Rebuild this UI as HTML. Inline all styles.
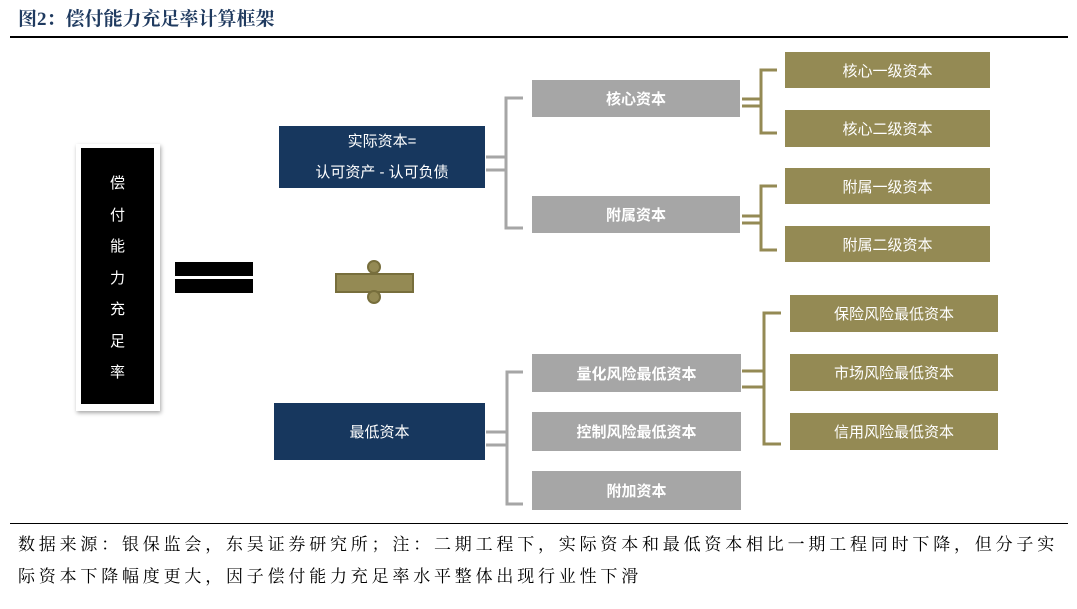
<!DOCTYPE html>
<html><head><meta charset="utf-8"><style>
body{margin:0;width:1077px;height:609px;background:#fff;position:relative;overflow:hidden;font-family:"Liberation Sans","Noto Sans CJK SC",sans-serif}
.a{position:absolute;box-sizing:border-box}
.t{display:flex;align-items:center;justify-content:center;color:#fff;font-size:15px}
.g{background:#a6a6a6;font-weight:bold}
.o{background:#948a54}
.n{background:#17375e}
</style></head><body>
<div class="a" style="left:18px;top:4px;font-size:19px;font-weight:bold;color:#1f3a5f;font-family:'Liberation Serif','Noto Serif CJK SC',serif">图2：偿付能力充足率计算框架</div>
<div class="a" style="left:10px;top:36px;width:1058px;height:2px;background:#000"></div>
<div class="a" style="left:10px;top:523px;width:1058px;height:1px;background:#000"></div>
<div class="a" style="left:18px;top:529px;width:1070px;font-size:17px;letter-spacing:3.8px;line-height:32px;color:#000;font-family:'Liberation Serif','Noto Serif CJK SC',serif;white-space:nowrap">数据来源：银保监会，东吴证券研究所；注：二期工程下，实际资本和最低资本相比一期工程同时下降，但分子实<br>际资本下降幅度更大，因子偿付能力充足率水平整体出现行业性下滑</div>

<div class="a" style="left:76px;top:144px;width:84px;height:267px;background:#fff;box-shadow:1px 2px 4px rgba(0,0,0,.35)"></div>
<div class="a" style="left:81px;top:148px;width:73px;height:256px;background:#000;color:#fff;font-size:15px;text-align:center;line-height:31.5px;padding-top:20px">偿<br>付<br>能<br>力<br>充<br>足<br>率</div>

<div class="a" style="left:175px;top:262px;width:78px;height:14px;background:#000"></div>
<div class="a" style="left:175px;top:279px;width:78px;height:14px;background:#000"></div>

<svg class="a" style="left:0;top:0" width="1077" height="609">
<rect x="336" y="274" width="77" height="18" fill="#948a54" stroke="#776e3c" stroke-width="2"/>
<circle cx="374" cy="267" r="6" fill="#948a54" stroke="#776e3c" stroke-width="2"/>
<circle cx="374" cy="297" r="6" fill="#948a54" stroke="#776e3c" stroke-width="2"/>
<g fill="none" stroke="#a6a6a6" stroke-width="3">
<path d="M486 157H505M486 170H505M523 98H506V228H523"/>
<path d="M486 432H506M486 445H506M523 372H507V504H523"/>
</g>
<g fill="none" stroke="#948a54" stroke-width="3">
<path d="M742 99H760M742 106H760M777 70H761V133H777"/>
<path d="M742 216H760M742 223H760M777 186H761V250H777"/>
<path d="M742 371H763M742 387H763M781 313H764V444H781"/>
</g>
</svg>

<div class="a n" style="left:279px;top:126px;width:206px;height:62px;color:#fff;font-size:15px;text-align:center;line-height:31px">实际资本=<br>认可资产 - 认可负债</div>
<div class="a t n" style="left:274px;top:403px;width:211px;height:57px">最低资本</div>

<div class="a t g" style="left:532px;top:80px;width:208px;height:37px">核心资本</div>
<div class="a t g" style="left:532px;top:196px;width:208px;height:37px">附属资本</div>
<div class="a t g" style="left:532px;top:354px;width:209px;height:38px">量化风险最低资本</div>
<div class="a t g" style="left:532px;top:412px;width:209px;height:39px">控制风险最低资本</div>
<div class="a t g" style="left:532px;top:471px;width:209px;height:39px">附加资本</div>

<div class="a t o" style="left:785px;top:52px;width:205px;height:36px">核心一级资本</div>
<div class="a t o" style="left:785px;top:110px;width:205px;height:37px">核心二级资本</div>
<div class="a t o" style="left:785px;top:168px;width:205px;height:36px">附属一级资本</div>
<div class="a t o" style="left:785px;top:226px;width:205px;height:36px">附属二级资本</div>
<div class="a t o" style="left:790px;top:295px;width:208px;height:37px">保险风险最低资本</div>
<div class="a t o" style="left:790px;top:354px;width:208px;height:37px">市场风险最低资本</div>
<div class="a t o" style="left:790px;top:413px;width:208px;height:37px">信用风险最低资本</div>
</body></html>
